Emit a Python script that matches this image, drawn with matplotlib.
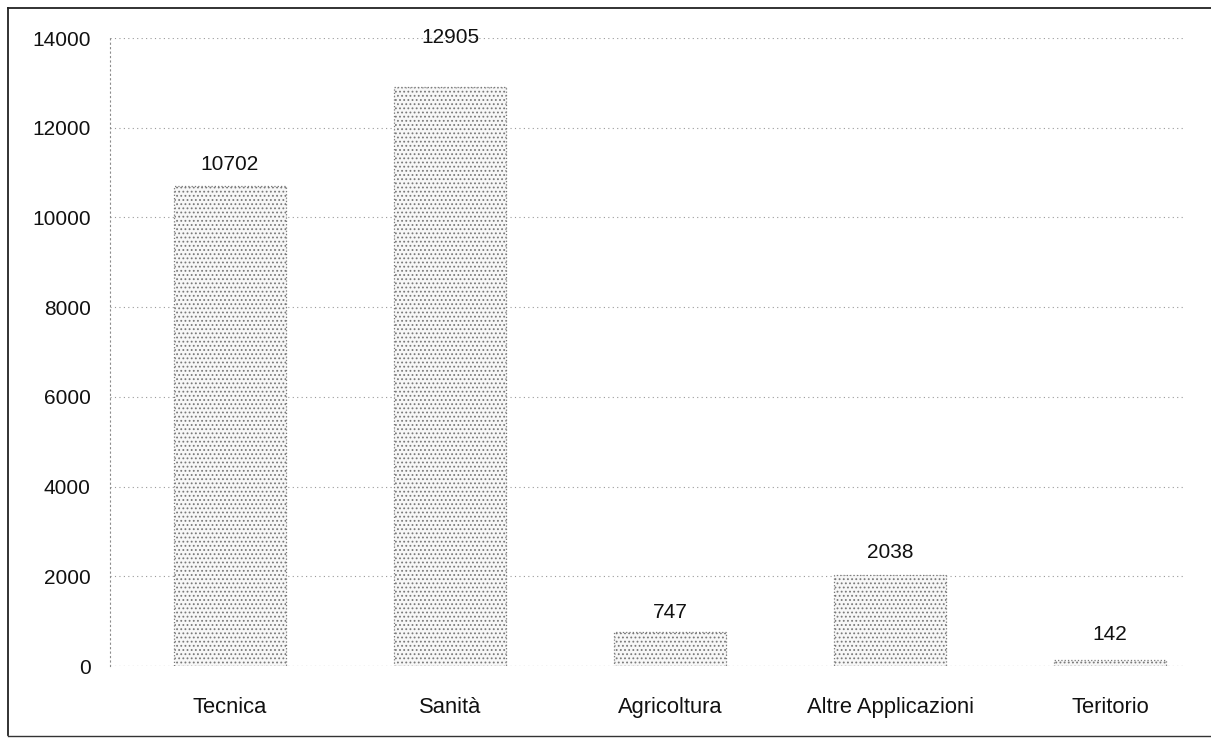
import matplotlib
matplotlib.use("Agg")
import matplotlib.pyplot as plt
from matplotlib.lines import Line2D

plt.rcParams['font.family'] = ['Liberation Sans', 'DejaVu Sans']
plt.rcParams['hatch.color'] = '#bdbdbd'
plt.rcParams['hatch.linewidth'] = 0.8

categories = ["Tecnica", "Sanità", "Agricoltura", "Altre Applicazioni", "Teritorio"]
values = [10702, 12905, 747, 2038, 142]
y_ticks = [0, 2000, 4000, 6000, 8000, 10000, 12000, 14000]
# where the printed value labels sit (data units), as in the scanned original
label_y = [11170, 14020, 1200, 2520, 700]

fig = plt.figure(figsize=(12.11, 7.39), dpi=100)
ax = fig.add_axes([110/1211, 73/739, 1075/1211, 628/739])

x = list(range(len(categories)))
ax.bar(x, values, width=0.51, facecolor='#f7f7f7', edgecolor='#7a7a7a',
       linewidth=0.9, linestyle=':', hatch='....', zorder=2)

for xi, v, ly in zip(x, values, label_y):
    ax.text(xi, ly, f"{v}", ha='center', va='center', fontsize=15,
            color='#111111', clip_on=False, zorder=3)

ax.set_xlim(-0.545, 4.34)
ax.set_ylim(0, 14000)
ax.set_yticks(y_ticks)
ax.set_yticklabels([str(t) for t in y_ticks])
ax.set_xticks(x)
ax.set_xticklabels(categories)
ax.tick_params(axis='y', length=0, pad=14, labelsize=15, labelcolor='#111111')
ax.tick_params(axis='x', length=0, pad=22, labelsize=15.8, labelcolor='#111111')
ax.yaxis.grid(True, linestyle=(0, (1, 3)), color='#9a9a9a', linewidth=0.8, zorder=0)
ax.set_axisbelow(True)
for s in ['top', 'right', 'bottom']:
    ax.spines[s].set_visible(False)
ax.spines['left'].set_linestyle((0, (1, 3)))
ax.spines['left'].set_color('#8c8c8c')
ax.spines['left'].set_linewidth(0.8)
ax.axhline(0, color='#9a9a9a', linestyle=(0, (1, 3)), linewidth=0.8, zorder=1)

# scanned frame around the chart
fig.add_artist(Line2D([8/1211, 8/1211], [4/739, 731/739], transform=fig.transFigure,
                      color='#222222', linewidth=1.3))
fig.add_artist(Line2D([8/1211, 1211/1211], [731/739, 731/739], transform=fig.transFigure,
                      color='#222222', linewidth=1.3))
fig.add_artist(Line2D([8/1211, 1211/1211], [3/739, 3/739], transform=fig.transFigure,
                      color='#333333', linewidth=1.0))

fig.savefig("out.png", dpi=100, facecolor='white')
